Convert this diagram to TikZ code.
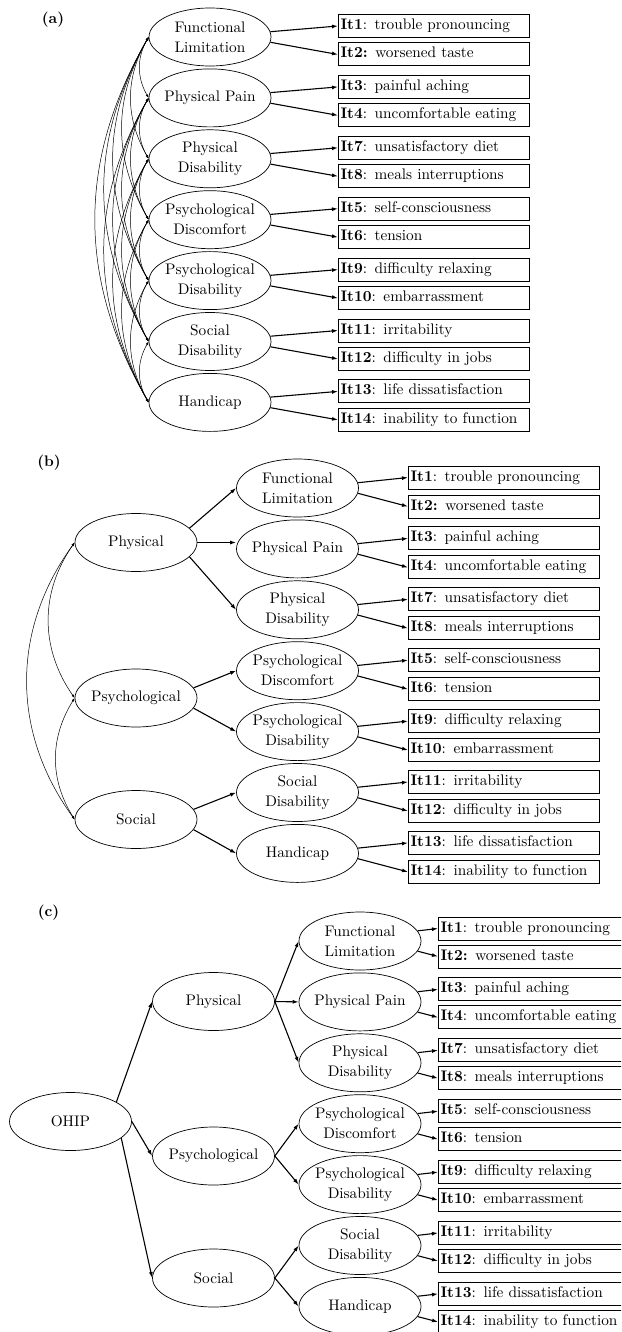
\documentclass[tikz,border=0pt]{standalone}
\usepackage{fontspec}
\setmainfont{lmroman10-regular.otf}[BoldFont=lmroman10-bold.otf]
\usetikzlibrary{shapes.geometric,arrows.meta}

% first-order factors: name / ellipse text / upper item / lower item
\newcommand\firstorder{FL/{Functional\\Limitation}/{\textbf{It1}: trouble pronouncing}/{\textbf{It2:} worsened taste},
  PP/{Physical Pain}/{\textbf{It3}: painful aching}/{\textbf{It4}: uncomfortable eating},
  PD/{Physical\\Disability}/{\textbf{It7}: unsatisfactory diet}/{\textbf{It8}: meals interruptions},
  PsD/{Psychological\\Discomfort}/{\textbf{It5}: self-consciousness}/{\textbf{It6}: tension},
  PsB/{Psychological\\Disability}/{\textbf{It9}: difficulty relaxing}/{\textbf{It10}: embarrassment},
  SD/{Social\\Disability}/{\textbf{It11}: irritability}/{\textbf{It12}: difficulty in jobs},
  HC/{Handicap}/{\textbf{It13}: life dissatisfaction}/{\textbf{It14}: inability to function}}

\begin{document}
\begin{tikzpicture}[x=1pt, y=1pt, font=\fontsize{15.3}{20}\selectfont]
    \tikzstyle{factor}=[ellipse, draw, line width=0.7pt, minimum width=122pt, minimum height=58pt, inner xsep=-5pt, inner ysep=0pt, align=center]
    \tikzstyle{item}=[rectangle, draw, line width=1pt, anchor=west, text width=187pt, minimum height=23pt, inner xsep=2pt, inner ysep=0pt, text height=11pt, text depth=4pt, align=left]
    \tikzstyle{load}=[-{Latex[length=6pt,width=4pt]}, line width=1.1pt]
    \tikzstyle{cov}=[{Latex[length=3.5pt,width=2.5pt]}-{Latex[length=3.5pt,width=2.5pt]}, line width=0.5pt]
    \tikzstyle{panel}=[font=\fontsize{15.3}{20}\selectfont\bfseries]

    \useasboundingbox (0,0) rectangle (621,-1332);
    \clip (0,0) rectangle (621,-1332);

    % Panel labels
    \node[panel] (lab-a) at (53,-20) {(a)};
    \node[panel] (lab-b) at (49,-463) {(b)};
    \node[panel] (lab-c) at (48.5,-913) {(c)};

    % First-order factors and their items, in all three panels
    \foreach \p/\fx/\fy/\bx/\bup/\bdn/\ang in {a/210/37/338/11/17.5/5, b/297.5/488/408/10.5/18.5/5, c/360/941/438/12.5/15.5/10}
        \foreach \nm/\txt/\itA/\itB [count=\k from 0] in \firstorder {
            \node[factor, alias=\p-\k] (\p-\nm) at (\fx, {-\fy-60.9*\k}) {\txt};
            \node[item] (\p-\nm-1) at (\bx, {-\fy-60.9*\k+\bup}) {\itA};
            \node[item] (\p-\nm-2) at (\bx, {-\fy-60.9*\k-\bdn}) {\itB};
            \draw[load] (\p-\nm.\ang) -- (\p-\nm-1.west);
            \draw[load] (\p-\nm.-\ang) -- (\p-\nm-2.west);
        }

    % (a) covariances between all first-order factors
    \foreach \i in {0,...,5} {
        \pgfmathtruncatemacro\jfirst{\i+1}
        \foreach \j in {\jfirst,...,6}
            \draw[cov] (a-\i.west) to[bend right=30] (a-\j.west);
    }

    % (b) second-order factors
    \node[factor] (b-phy) at (136,-542.5) {Physical};
    \node[factor] (b-psy) at (136,-698) {Psychological};
    \node[factor] (b-soc) at (136,-819.5) {Social};

    \draw[load] (b-phy.15) -- (b-FL.west);
    \draw[load] (b-phy.east) -- (b-PP.west |- b-phy.east);
    \draw[load] (b-phy.-15) -- (b-PD.west);
    \draw[load] (b-psy.10) -- (b-PsD.west);
    \draw[load] (b-psy.-10) -- (b-PsB.west);
    \draw[load] (b-soc.10) -- (b-SD.west);
    \draw[load] (b-soc.-10) -- (b-HC.west);

    \draw[cov] (b-phy.west) to[bend right=35] (b-psy.west);
    \draw[cov] (b-psy.west) to[bend right=32] (b-soc.west);
    \draw[cov] (b-phy.west) to[bend right=36] (b-soc.west);

    % (c) third-order model
    \node[factor] (c-ohip) at (70.5,-1121.5) {OHIP};
    \node[factor] (c-phy) at (213.5,-1001.5) {Physical};
    \node[factor] (c-psy) at (213.5,-1156) {Psychological};
    \node[factor] (c-soc) at (213.5,-1278) {Social};

    \draw[load] (c-ohip.23) -- (c-phy.west);
    \draw[load] (c-ohip.east) -- (c-psy.west);
    \draw[load] (c-ohip.-18) -- (c-soc.west);

    \draw[load] (c-phy.east) -- (c-FL.west);
    \draw[load] (c-phy.east) -- (c-PP.west);
    \draw[load] (c-phy.east) -- (c-PD.west);
    \draw[load] (c-psy.east) -- (c-PsD.west);
    \draw[load] (c-psy.east) -- (c-PsB.west);
    \draw[load] (c-soc.east) -- (c-SD.west);
    \draw[load] (c-soc.east) -- (c-HC.west);
\end{tikzpicture}
\end{document}
